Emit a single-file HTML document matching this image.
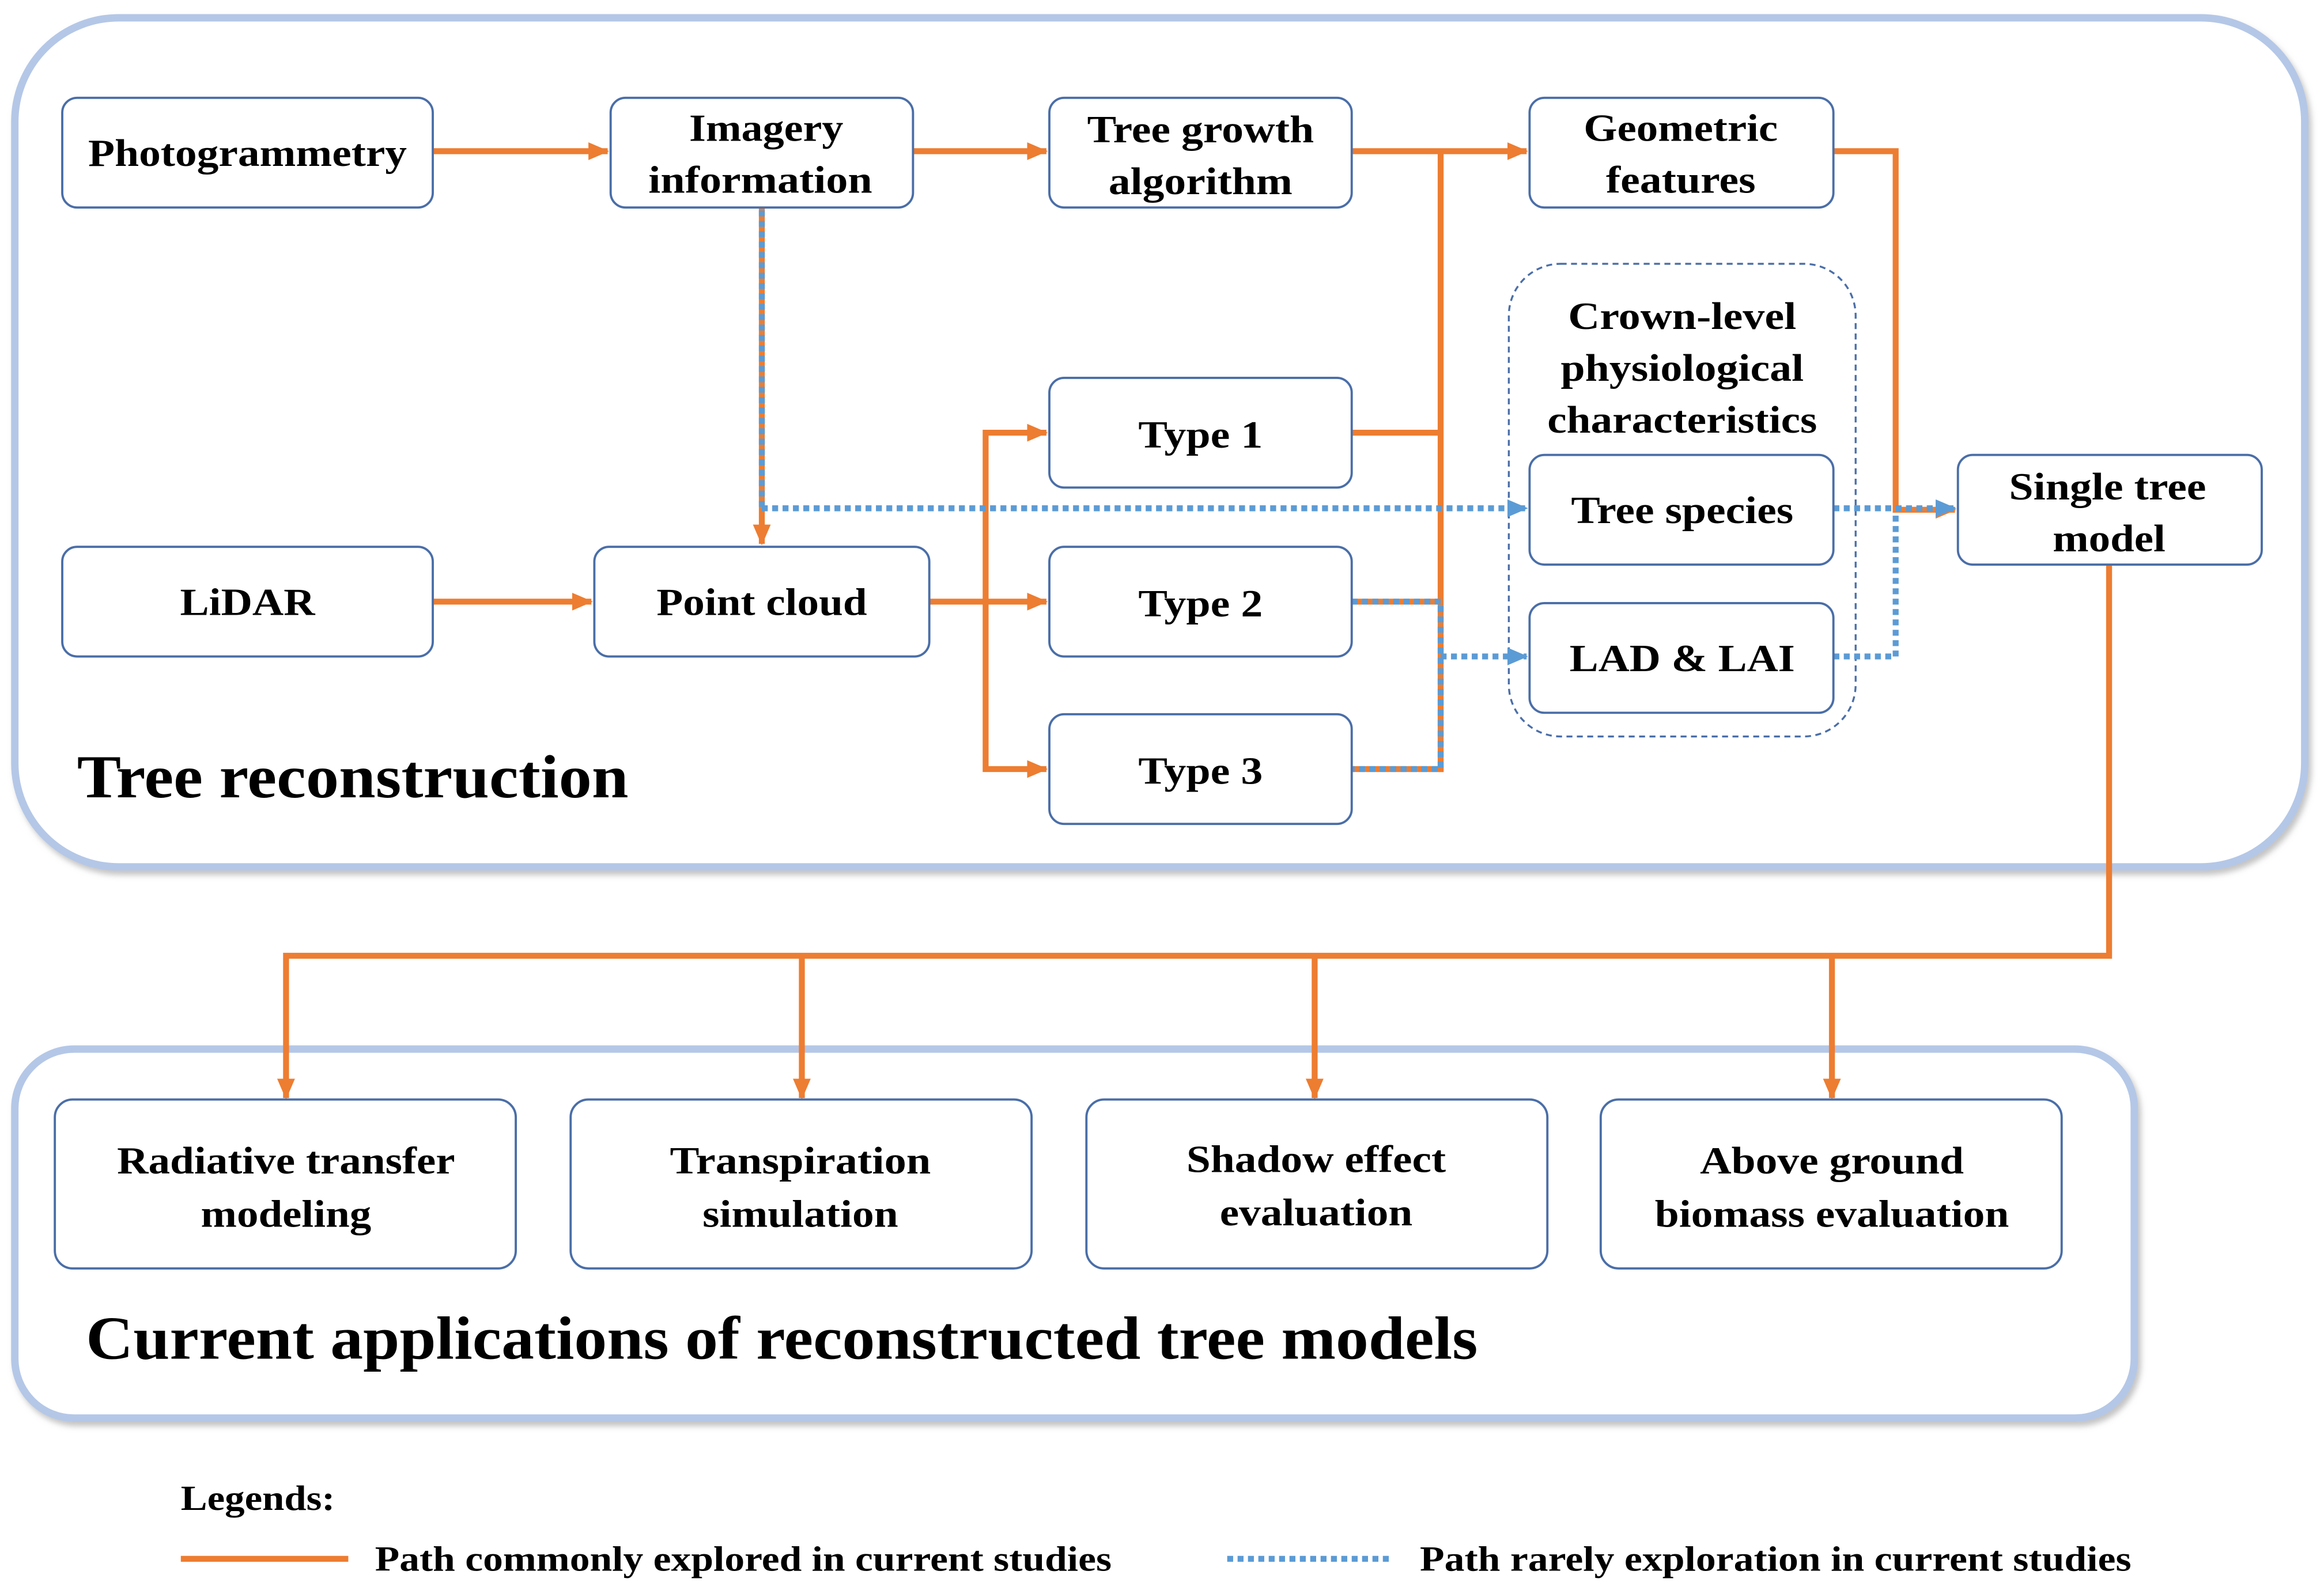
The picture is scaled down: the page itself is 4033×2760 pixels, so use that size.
<!DOCTYPE html>
<html><head><meta charset="utf-8"><style>
html,body{margin:0;padding:0;background:#fff;}
svg{display:block;}
text{font-family:"Liberation Serif",serif;font-weight:bold;fill:#000;}
</style></head><body>
<svg width="4033" height="2760" viewBox="0 0 1568 1073" xmlns="http://www.w3.org/2000/svg">
<defs>
<marker id="ao" markerWidth="14" markerHeight="12" refX="13" refY="6" orient="auto" markerUnits="userSpaceOnUse" viewBox="0 0 14 12"><path d="M0,0 L14,6 L0,12 z" fill="#ed7d31"/></marker>
<marker id="ab" markerWidth="14" markerHeight="12" refX="13" refY="6" orient="auto" markerUnits="userSpaceOnUse" viewBox="0 0 14 12"><path d="M0,0 L14,6 L0,12 z" fill="#5b9bd5"/></marker>
<filter id="sh" x="-5%" y="-5%" width="110%" height="110%"><feDropShadow dx="2" dy="3" stdDeviation="2" flood-color="#888" flood-opacity="0.5"/></filter>
</defs>
<style>
.o{stroke:#ed7d31;stroke-width:4;fill:none;}
.b{stroke:#5b9bd5;stroke-width:4;fill:none;stroke-dasharray:4 3;}
.n{fill:#fff;stroke:#4a6ea8;stroke-width:1.5;}
</style>
<rect x="10" y="12" width="1545" height="573" rx="70" fill="#fff" stroke="#b4c7e7" stroke-width="5" filter="url(#sh)"/>
<rect x="10" y="708" width="1430" height="249" rx="40" fill="#fff" stroke="#b4c7e7" stroke-width="5" filter="url(#sh)"/>
<rect x="1018" y="178" width="234" height="319" rx="35" fill="none" stroke="#4a6ea8" stroke-width="1.3" stroke-dasharray="4 3"/>

<path class="o" d="M292,102 H410" marker-end="url(#ao)"/>
<path class="o" d="M616,102 H706" marker-end="url(#ao)"/>
<path class="o" d="M912,102 H1030" marker-end="url(#ao)"/>
<path class="o" d="M972,102 V521"/>
<path class="o" d="M912,292 H972 M912,406 H972 M912,519 H974"/>
<path class="o" d="M1237,102 H1279 V344 H1319" marker-end="url(#ao)"/>
<path class="o" d="M292,406 H399" marker-end="url(#ao)"/>
<path class="o" d="M627,406 H706" marker-end="url(#ao)"/>
<path class="o" d="M665,406 V292 H706" marker-end="url(#ao)"/>
<path class="o" d="M665,406 V519 H706" marker-end="url(#ao)"/>
<path class="o" d="M514,140 V367" marker-end="url(#ao)"/>
<path class="o" d="M1423,381 V645 H193 V741" marker-end="url(#ao)"/>
<path class="o" d="M541,645 V741" marker-end="url(#ao)"/>
<path class="o" d="M887,645 V741" marker-end="url(#ao)"/>
<path class="o" d="M1236,645 V741" marker-end="url(#ao)"/>

<path class="b" d="M514,142 V343"/>
<path class="b" d="M514,343 H1030" marker-end="url(#ab)"/>
<path class="b" d="M912,406 H972 V519 H912" stroke-width="2"/>
<path class="b" d="M972,443 H1030" marker-end="url(#ab)"/>
<path class="b" d="M1237,343 H1319" marker-end="url(#ab)"/>
<path class="b" d="M1237,443 H1279 V345"/>

<rect class="n" x="42" y="66" width="250" height="74" rx="10"/>
<rect class="n" x="412" y="66" width="204" height="74" rx="10"/>
<rect class="n" x="708" y="66" width="204" height="74" rx="10"/>
<rect class="n" x="1032" y="66" width="205" height="74" rx="10"/>
<rect class="n" x="1032" y="307" width="205" height="74" rx="10"/>
<rect class="n" x="1032" y="407" width="205" height="74" rx="10"/>
<rect class="n" x="1321" y="307" width="205" height="74" rx="10"/>
<rect class="n" x="42" y="369" width="250" height="74" rx="10"/>
<rect class="n" x="401" y="369" width="226" height="74" rx="10"/>
<rect class="n" x="708" y="255" width="204" height="74" rx="10"/>
<rect class="n" x="708" y="369" width="204" height="74" rx="10"/>
<rect class="n" x="708" y="482" width="204" height="74" rx="10"/>
<rect class="n" x="37" y="742" width="311" height="114" rx="12"/>
<rect class="n" x="385" y="742" width="311" height="114" rx="12"/>
<rect class="n" x="733" y="742" width="311" height="114" rx="12"/>
<rect class="n" x="1080" y="742" width="311" height="114" rx="12"/>

<g font-size="26" text-anchor="middle" lengthAdjust="spacingAndGlyphs">
<text x="167" y="112" textLength="215" lengthAdjust="spacingAndGlyphs">Photogrammetry</text>
<text x="517" y="95" textLength="104" lengthAdjust="spacingAndGlyphs">Imagery</text><text x="513" y="130" textLength="151" lengthAdjust="spacingAndGlyphs">information</text>
<text x="810" y="96" textLength="153" lengthAdjust="spacingAndGlyphs">Tree growth</text><text x="810" y="131" textLength="124" lengthAdjust="spacingAndGlyphs">algorithm</text>
<text x="1134" y="95" textLength="131" lengthAdjust="spacingAndGlyphs">Geometric</text><text x="1134" y="130" textLength="101" lengthAdjust="spacingAndGlyphs">features</text>
<text x="1135" y="222" textLength="154" lengthAdjust="spacingAndGlyphs">Crown-level</text><text x="1135" y="257" textLength="164" lengthAdjust="spacingAndGlyphs">physiological</text><text x="1135" y="292" textLength="182" lengthAdjust="spacingAndGlyphs">characteristics</text>
<text x="1135" y="353" textLength="150" lengthAdjust="spacingAndGlyphs">Tree species</text>
<text x="1135" y="453" textLength="152" lengthAdjust="spacingAndGlyphs">LAD &amp; LAI</text>
<text x="1422" y="337" textLength="133" lengthAdjust="spacingAndGlyphs">Single tree</text><text x="1423" y="372" textLength="76" lengthAdjust="spacingAndGlyphs">model</text>
<text x="167" y="415" textLength="91" lengthAdjust="spacingAndGlyphs">LiDAR</text>
<text x="514" y="415" textLength="142" lengthAdjust="spacingAndGlyphs">Point cloud</text>
<text x="810" y="302" textLength="84" lengthAdjust="spacingAndGlyphs">Type 1</text>
<text x="810" y="416" textLength="84" lengthAdjust="spacingAndGlyphs">Type 2</text>
<text x="810" y="529" textLength="84" lengthAdjust="spacingAndGlyphs">Type 3</text>
<text x="193" y="792" textLength="228" lengthAdjust="spacingAndGlyphs">Radiative transfer</text><text x="193" y="828" textLength="115" lengthAdjust="spacingAndGlyphs">modeling</text>
<text x="540" y="792" textLength="176" lengthAdjust="spacingAndGlyphs">Transpiration</text><text x="540" y="828" textLength="132" lengthAdjust="spacingAndGlyphs">simulation</text>
<text x="888" y="791" textLength="175" lengthAdjust="spacingAndGlyphs">Shadow effect</text><text x="888" y="827" textLength="130" lengthAdjust="spacingAndGlyphs">evaluation</text>
<text x="1236" y="792" textLength="178" lengthAdjust="spacingAndGlyphs">Above ground</text><text x="1236" y="828" textLength="239" lengthAdjust="spacingAndGlyphs">biomass evaluation</text>
</g>
<text x="52" y="538" font-size="41" textLength="372" lengthAdjust="spacingAndGlyphs">Tree reconstruction</text>
<text x="58" y="917" font-size="41" textLength="939" lengthAdjust="spacingAndGlyphs">Current applications of reconstructed tree models</text>

<text x="122" y="1019" font-size="24" textLength="104" lengthAdjust="spacingAndGlyphs">Legends:</text>
<path d="M122,1052 H235" stroke="#ed7d31" stroke-width="4"/>
<text x="253" y="1060" font-size="24" textLength="497" lengthAdjust="spacingAndGlyphs">Path commonly explored in current studies</text>
<path d="M828,1052 H940" stroke="#5b9bd5" stroke-width="4" stroke-dasharray="4 3"/>
<text x="958" y="1060" font-size="24" textLength="480" lengthAdjust="spacingAndGlyphs">Path rarely exploration in current studies</text>
</svg>
</body></html>
